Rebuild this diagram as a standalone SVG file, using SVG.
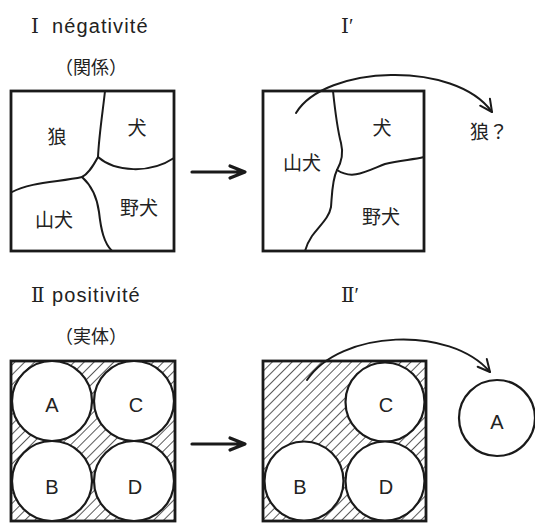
<svg xmlns="http://www.w3.org/2000/svg" width="535" height="523" viewBox="0 0 535 523">
  <style>
    .box { fill: #fff; stroke: #1a1a1a; stroke-width: 2.8; }
    .hbox { fill: url(#hatch); stroke: #1a1a1a; stroke-width: 2.8; }
    .edge { fill: none; stroke: #1a1a1a; stroke-width: 2; stroke-linecap: round; }
    .ball { fill: #fff; stroke: #1a1a1a; stroke-width: 2.2; }
    .ja { font-family: "Noto Sans CJK JP", sans-serif; font-size: 19px; fill: #222; text-anchor: middle; }
    .jt { font-family: "Noto Sans CJK JP", sans-serif; font-size: 18px; fill: #222; text-anchor: middle; }
    .lat { font-family: "Liberation Sans", Arial, sans-serif; font-size: 20px; fill: #222; letter-spacing: 1.1px; }
    .num { font-family: "Liberation Serif", "DejaVu Serif", serif; font-size: 20px; fill: #222; }
    .abc { font-family: "Liberation Sans", Arial, sans-serif; font-size: 20px; fill: #222; text-anchor: middle; }
    .conn { fill: none; stroke: #1a1a1a; stroke-width: 2; stroke-linecap: round; }
    .bold { fill: none; stroke: #1a1a1a; stroke-width: 3.2; stroke-linecap: round; stroke-linejoin: round; }
  </style>
  <defs>
    <pattern id="hatch" width="7" height="7" patternUnits="userSpaceOnUse" patternTransform="rotate(45)">
      <rect width="7" height="7" fill="#fff"/>
      <line x1="0" y1="0" x2="0" y2="7" stroke="#222" stroke-width="1.5"/>
    </pattern>
    <marker id="vee" markerWidth="16" markerHeight="16" refX="0" refY="0" viewBox="-14 -8 16 16" orient="auto" markerUnits="userSpaceOnUse">
      <path d="M-12,-6 L0,0 L-12,6" fill="none" stroke="#1a1a1a" stroke-width="2" stroke-linecap="round" stroke-linejoin="round"/>
    </marker>
  </defs>

  <!-- headings -->
  <g id="title-neg">
    <text class="num" x="31" y="33">Ⅰ</text>
    <text class="lat" x="52" y="33">négativité</text>
    <text class="jt" x="91" y="74">（関係）</text>
  </g>
  <g id="title-neg-prime">
    <text class="num" x="341" y="33">Ⅰ′</text>
  </g>
  <g id="title-pos">
    <text class="num" x="31" y="302">Ⅱ</text>
    <text class="lat" x="52" y="302">positivité</text>
    <text class="jt" x="91" y="343">（実体）</text>
  </g>
  <g id="title-pos-prime">
    <text class="num" x="341" y="302">Ⅱ′</text>
  </g>

  <!-- I: field divided by relations -->
  <g id="field-I">
    <rect class="box" x="11" y="91" width="163" height="160"/>
    <path class="edge" d="M105,91 C103,110 99,135 98,157"/>
    <path class="edge" d="M98,157 C115,172 150,174 174,158"/>
    <path class="edge" d="M98,157 C92,168 88,174 82,177 C60,182 30,182 12,192"/>
    <path class="edge" d="M82,177 C92,186 97,197 99,212 C101,230 104,243 112,251"/>
    <text class="ja" x="57" y="144">狼</text>
    <text class="ja" x="137" y="135">犬</text>
    <text class="ja" x="54" y="227">山犬</text>
    <text class="ja" x="139" y="215">野犬</text>
  </g>

  <!-- I': field after removal -->
  <g id="field-I-prime">
    <rect class="box" x="263" y="91" width="161" height="160"/>
    <path class="edge" d="M333,91 C335,110 337,128 341,143 C344,155 341,163 337,170"/>
    <path class="edge" d="M337,170 C352,180 365,172 385,164 C400,160 412,160 424,157"/>
    <path class="edge" d="M337,170 C332,180 332,195 331,207 C329,218 320,225 312,236 C308,242 306,247 305,251"/>
    <text class="ja" x="382" y="135">犬</text>
    <text class="ja" x="302" y="170">山犬</text>
    <text class="ja" x="381" y="224">野犬</text>
  </g>
  <g id="wolf-out">
    <text class="ja" x="489" y="139">狼？</text>
  </g>

  <!-- II: substances filling the field -->
  <g id="field-II">
    <rect class="hbox" x="11" y="361" width="164" height="160"/>
    <circle class="ball" cx="52" cy="401" r="40"/>
    <circle class="ball" cx="134" cy="401" r="40"/>
    <circle class="ball" cx="52" cy="481" r="40"/>
    <circle class="ball" cx="134" cy="481" r="40"/>
    <text class="abc" x="52" y="412">A</text>
    <text class="abc" x="136" y="412">C</text>
    <text class="abc" x="52" y="494">B</text>
    <text class="abc" x="135" y="494">D</text>
  </g>

  <!-- II': one substance taken out -->
  <g id="field-II-prime">
    <rect class="hbox" x="263" y="361" width="163" height="160"/>
    <circle class="ball" cx="385" cy="402" r="39.5"/>
    <circle class="ball" cx="304" cy="481" r="39.5"/>
    <circle class="ball" cx="385" cy="481" r="39.5"/>
    <text class="abc" x="386" y="412">C</text>
    <text class="abc" x="300" y="494">B</text>
    <text class="abc" x="386" y="494">D</text>
  </g>
  <g id="ball-A-out">
    <circle class="ball" cx="497" cy="418" r="38"/>
    <text class="abc" x="497" y="429">A</text>
  </g>

  <!-- connectors -->
  <g id="connectors">
    <path class="bold" d="M192,172 L244,172 M230,166 L245,172 L230,178"/>
    <path class="bold" d="M192,444 L244,444 M230,438 L245,444 L230,450"/>
    <path class="conn" d="M296,113 C325,65 455,60 492,112" marker-end="url(#vee)"/>
    <path class="conn" d="M307,380 C340,330 450,325 490,372" marker-end="url(#vee)"/>
  </g>
</svg>
